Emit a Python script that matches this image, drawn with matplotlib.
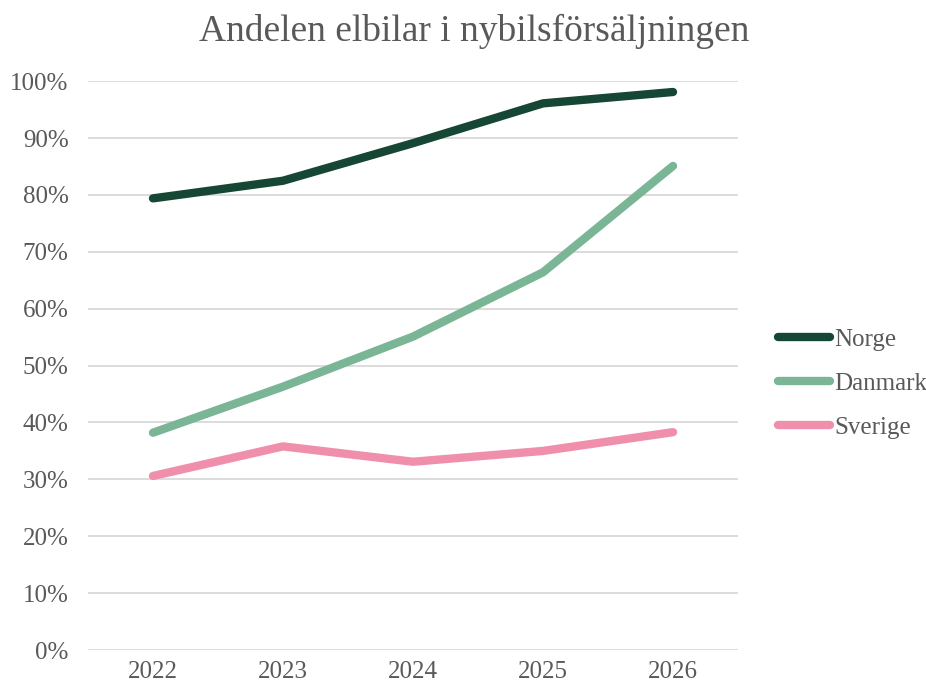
import matplotlib
matplotlib.use("Agg")
import matplotlib.pyplot as plt
from matplotlib.ticker import PercentFormatter

years = ["2022", "2023", "2024", "2025", "2026"]
norge = [79.4, 82.5, 89.1, 96.1, 98.1]
danmark = [38.2, 46.3, 55.1, 66.4, 85.1]
sverige = [30.6, 35.8, 33.1, 35.0, 38.3]

series = [("Norge", norge, "#154734"),
          ("Danmark", danmark, "#7ab595"),
          ("Sverige", sverige, "#f08fab")]

text_color = "#595959"
plt.rcParams["font.family"] = ["Liberation Serif", "DejaVu Serif"]

fig = plt.figure(figsize=(9.26, 6.88), dpi=100)
ax = fig.add_axes([0.095, 0.0552, 0.702, 0.8268])

x = list(range(len(years)))
for name, vals, color in series:
    ax.plot(x, vals, color=color, linewidth=6, solid_capstyle="round",
            solid_joinstyle="round", label=name)

ax.set_xlim(-0.5, len(years) - 0.5)
ax.set_ylim(0, 100)
ax.set_yticks(range(0, 101, 10))
ax.yaxis.set_major_formatter(PercentFormatter(decimals=0))
ax.set_xticks(x)
ax.set_xticklabels(years)
ax.grid(axis="y", color="#d9d9d9", linewidth=1.3)
ax.set_axisbelow(True)
for s in ax.spines.values():
    s.set_visible(False)
ax.tick_params(length=0, labelsize=18, colors=text_color)
ax.tick_params(axis="x", pad=8)
ax.tick_params(axis="y", pad=14)

fig.text(0.512, 0.955, "Andelen elbilar i nybilsförsäljningen", fontsize=27,
         color=text_color, ha="center", va="center")

leg = ax.legend(loc="center left", bbox_to_anchor=(0.840, 0.442),
                bbox_transform=fig.transFigure, frameon=False,
                borderpad=0, borderaxespad=0,
                fontsize=18, labelcolor=text_color, handlelength=2.1,
                handletextpad=0.15, labelspacing=0.86)

fig.savefig("out.png", dpi=100)
